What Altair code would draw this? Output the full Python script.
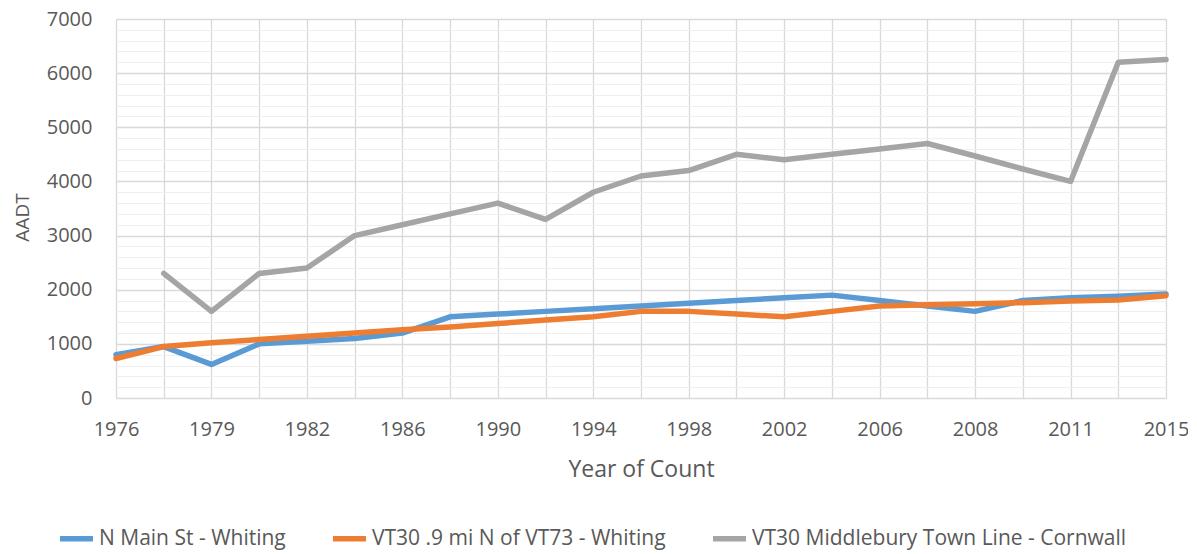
import altair as alt
import pandas as pd

# Categories (every other one is labelled on the axis)
years = ["1976", "1977", "1979", "1980", "1982", "1984", "1986", "1988", "1990",
         "1992", "1994", "1996", "1998", "2000", "2002", "2004", "2006", "2007",
         "2008", "2010", "2011", "2013", "2015"]
shown_labels = ["1976", "1979", "1982", "1986", "1990", "1994", "1998", "2002",
                "2006", "2008", "2011", "2015"]

series_names = ["N Main St - Whiting",
                "VT30 .9 mi N of VT73 - Whiting",
                "VT30 Middlebury Town Line - Cornwall"]

n_main = [800, 950, 620, 1000, 1050, 1100, 1200, 1500, 1550, 1600, 1650, 1700,
          1750, 1800, 1850, 1900, 1800, 1700, 1600, 1800, 1850, 1880, 1920]
vt30_n = [730, 950, 1020, 1080, 1140, 1200, 1260, 1310, 1375, 1440, 1500, 1600,
          1600, 1550, 1500, 1600, 1700, 1720, 1740, 1760, 1790, 1810, 1890]
vt30_m = [None, 2300, 1600, 2300, 2400, 3000, 3200, 3400, 3600, 3300, 3800, 4100,
          4200, 4500, 4400, 4500, 4600, 4700, 4470, 4230, 4000, 6200, 6250]

colors = ["#5B9BD5", "#ED7D31", "#A5A5A5"]

rows = []
for name, vals in zip(series_names, [n_main, vt30_n, vt30_m]):
    for y, v in zip(years, vals):
        if v is not None:
            rows.append({"year": y, "series": name, "aadt": v})
df = pd.DataFrame(rows)

FONT = "Open Sans"
TXT = "#595959"

label_expr = "indexof(" + str(shown_labels) + ", datum.label) >= 0 ? datum.label : ''"

x_enc = alt.X("year:O", sort=years,
              scale=alt.Scale(type="point", padding=0),
              axis=alt.Axis(title="Year of Count", labelAngle=0, labelExpr=label_expr,
                            grid=True, gridColor="#D9D9D9", gridWidth=1.3,
                            domain=False, ticks=False, labelPadding=21,
                            labelFontSize=20, labelColor=TXT, labelFont=FONT,
                            titleFontSize=23, titleColor=TXT, titleFont=FONT,
                            titleFontWeight="normal", titlePadding=19))

minor = alt.Chart(df).mark_line(opacity=0).encode(
    x=x_enc,
    y=alt.Y("aadt:Q", scale=alt.Scale(domain=[0, 7000], nice=False),
            axis=alt.Axis(orient="right", values=list(range(0, 7001, 200)),
                          grid=True, gridColor="#EFEFEF", gridWidth=1.2,
                          labels=False, ticks=False, domain=False, title=None)),
)

lines = alt.Chart(df).mark_line(strokeWidth=5.5, strokeCap="round", strokeJoin="round").encode(
    x=x_enc,
    y=alt.Y("aadt:Q", scale=alt.Scale(domain=[0, 7000], nice=False),
            axis=alt.Axis(title="AADT", values=list(range(0, 7001, 1000)), format="d",
                          grid=True, gridColor="#D9D9D9", gridWidth=1.3,
                          domain=False, ticks=False, labelPadding=24,
                          labelFontSize=20, labelColor=TXT, labelFont=FONT,
                          titleFontSize=19, titleColor=TXT, titleFont=FONT,
                          titleFontWeight="normal", titleX=-94, titleY=198,
                          titleBaseline="middle")),
    color=alt.Color("series:N", sort=series_names,
                    scale=alt.Scale(domain=series_names, range=colors),
                    legend=alt.Legend(title=None, orient="none", direction="horizontal",
                                      legendX=-59, legendY=500,
                                      symbolType="stroke", symbolSize=1089,
                                      symbolStrokeWidth=5.5, labelFontSize=21,
                                      labelFont=FONT, labelColor=TXT, labelOffset=3,
                                      columnPadding=36, padding=0,
                                      labelLimit=600)),
    detail="series:N",
)

chart = alt.layer(minor, lines).resolve_axis(y="independent").properties(
    width=1050, height=379,
    autosize=alt.AutoSizeParams(type="none"),
    padding={"left": 108, "top": 11, "right": 22, "bottom": 156},
).configure_view(stroke=None)

chart.save("out.html", embed_options={"renderer": "svg", "actions": False})
